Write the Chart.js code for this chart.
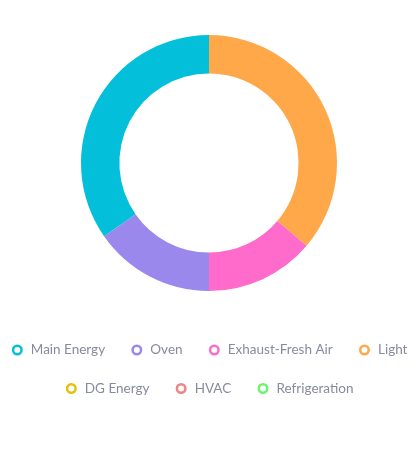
<!DOCTYPE html>
<html>
<head>
<meta charset="utf-8">
<script src="https://cdn.jsdelivr.net/npm/chart.js@4"></script>
<style>
  html, body { margin: 0; padding: 0; background: #fff; }
  #wrap { width: 418px; height: 462px; position: relative; }
</style>
</head>
<body>
<div id="wrap"><canvas id="c"></canvas></div>
<script>
// Data (in legend order)
const categories = ['Main Energy', 'Oven', 'Exhaust-Fresh Air', 'Light', 'DG Energy', 'HVAC', 'Refrigeration'];
const values = [34.7, 15.3, 13.8, 36.2, 0, 0, 0];
const colors = ['#04bfda', '#9b88ed', '#fe6bcb', '#ffa84a', '#e2c20d', '#f08383', '#6cf56c'];

// Drawn counter-clockwise from the top in the reference: reverse for drawing, reverse legend back
const drawLabels = categories.slice().reverse();
const drawValues = values.slice().reverse();
const drawColors = colors.slice().reverse();

new Chart(document.getElementById('c'), {
  type: 'doughnut',
  data: {
    labels: drawLabels,
    datasets: [{
      data: drawValues,
      backgroundColor: drawColors,
      borderWidth: 0,
      hoverOffset: 0
    }]
  },
  options: {
    responsive: true,
    maintainAspectRatio: false,
    animation: false,
    radius: 128,
    cutout: '70%',
    layout: { padding: { top: 7.75, bottom: 56.75, left: -16, right: -16 } },
    plugins: {
      tooltip: { enabled: false },
      legend: {
        position: 'bottom',
        reverse: true,
        labels: {
          usePointStyle: true,
          boxHeight: 6,
          padding: 25,
          color: '#868b9f',
          font: { family: 'Lato', size: 13.5 },
          generateLabels(chart) {
            const base = Chart.overrides.doughnut.plugins.legend.labels.generateLabels(chart);
            return base.map(item => Object.assign(item, {
              pointStyle: 'circle',
              strokeStyle: item.fillStyle,
              fillStyle: '#ffffff',
              lineWidth: 2.5,
              hidden: false
            }));
          }
        }
      }
    }
  }
});
</script>
</body>
</html>
